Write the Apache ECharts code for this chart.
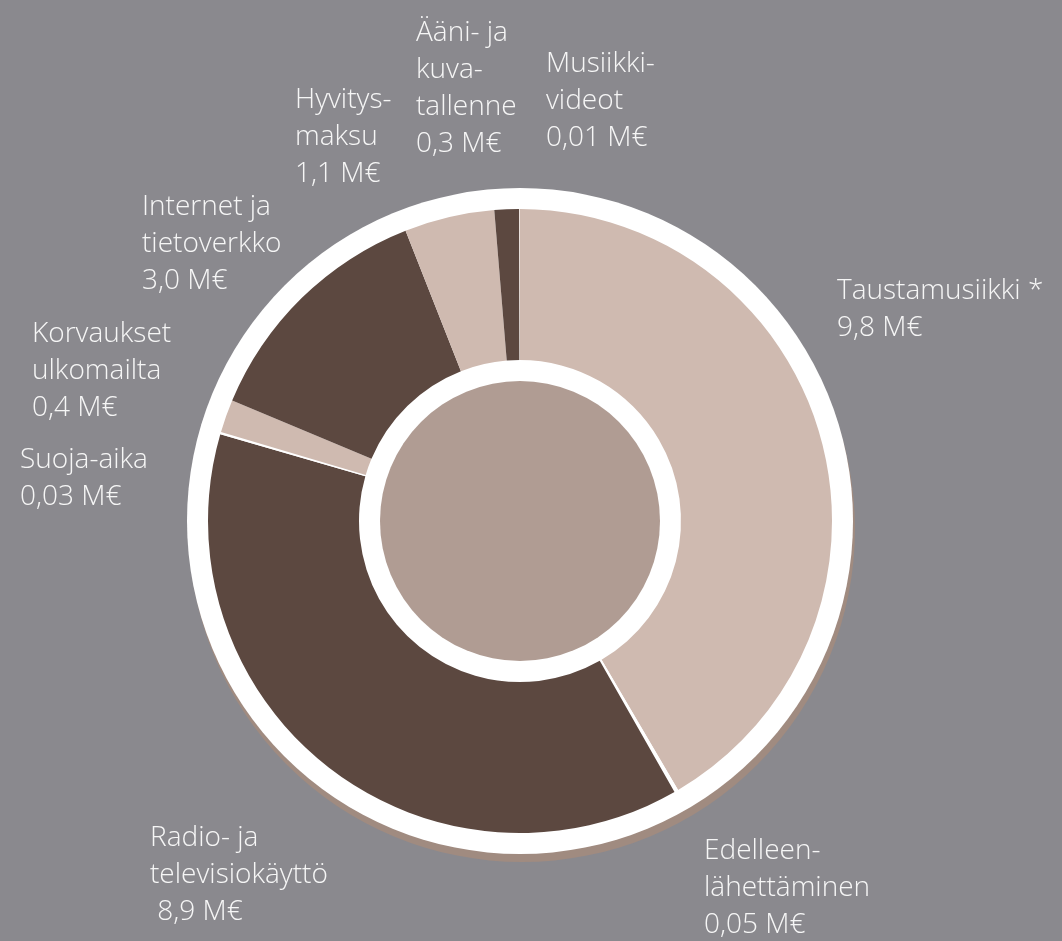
<!DOCTYPE html>
<html>
<head>
<meta charset="utf-8">
<script src="https://cdn.jsdelivr.net/npm/echarts@6/dist/echarts.min.js"></script>
<style>
html,body{margin:0;padding:0;background:#8a898e;}
#chart{width:1062px;height:941px;}
</style>
</head>
<body>
<div id="chart"></div>
<script>
// ---- data ----
const categories = [
  'Taustamusiikki *',
  'Edelleen-\nlähettäminen',
  'Radio- ja\ntelevisiokäyttö',
  'Suoja-aika',
  'Korvaukset\nulkomailta',
  'Internet ja\ntietoverkko',
  'Hyvitys-\nmaksu',
  'Ääni- ja\nkuva-\ntallenne',
  'Musiikki-\nvideot'
];
const values = [9.8, 0.05, 8.9, 0.03, 0.4, 3.0, 1.1, 0.3, 0.01];
const unit = 'M€';

// ---- styles / layout ----
const CX = 520, CY = 521;
const LIGHT = '#cfbab0', DARK = '#5c4840', WHITE = '#ffffff', THIN = '#efe6e1';
const sliceColors = [LIGHT, WHITE, DARK, WHITE, LIGHT, DARK, LIGHT, DARK, THIN];
const valuePrefix = ['', '', ' ', '', '', '', '', '', ''];
const LH = 37;
// label anchor: left x and centre of first line
const labelPos = [
  [837, 291], [704, 851], [150, 838], [20, 460], [32, 334],
  [142, 207], [295, 100], [416, 33], [546, 64]
];

function fmt(v) {
  const d = v < 0.1 ? 2 : 1;
  return v.toFixed(d).replace('.', ',') + ' ' + unit;
}

const chart = echarts.init(document.getElementById('chart'), null, {renderer: 'canvas'});
const option = {
  backgroundColor: '#8a898e',
  animation: false,
  series: [
    {
      type: 'pie', silent: true, center: [CX + 2, CY + 8], radius: [0, 333],
      label: {show: false}, labelLine: {show: false},
      itemStyle: {color: '#a08b80'}, data: [{value: 1, name: ''}], z: 1
    },
    {
      type: 'pie', silent: true, center: [CX, CY], radius: [0, 333],
      label: {show: false}, labelLine: {show: false},
      itemStyle: {color: '#ffffff'}, data: [{value: 1, name: ''}], z: 2
    },
    {
      type: 'pie', silent: true, center: [CX, CY], radius: [0, 140],
      label: {show: false}, labelLine: {show: false},
      itemStyle: {color: '#b09c93'}, data: [{value: 1, name: ''}], z: 2
    },
    {
      type: 'pie', z: 3,
      center: [CX, CY], radius: [161, 312],
      startAngle: 90, clockwise: true, minAngle: 0,
      avoidLabelOverlap: false,
      itemStyle: {borderWidth: 0},
      labelLine: {show: false},
      label: {
        show: true, position: 'outside',
        color: '#f6f6f6', fontFamily: '"Open Sans", sans-serif',
        fontSize: 28, fontWeight: 300, lineHeight: LH,
        align: 'left',
        formatter: p => p.name + '\n' + valuePrefix[p.dataIndex] + fmt(p.value)
      },
      labelLayout: p => ({
        x: labelPos[p.dataIndex][0],
        y: labelPos[p.dataIndex][1] - LH / 2,
        align: 'left', verticalAlign: 'top', hideOverlap: false, moveOverlap: null
      }),
      data: categories.map((c, i) => ({
        name: c, value: values[i], itemStyle: {color: sliceColors[i]}
      }))
    }
  ]
};
chart.setOption(option);
</script>
</body>
</html>
